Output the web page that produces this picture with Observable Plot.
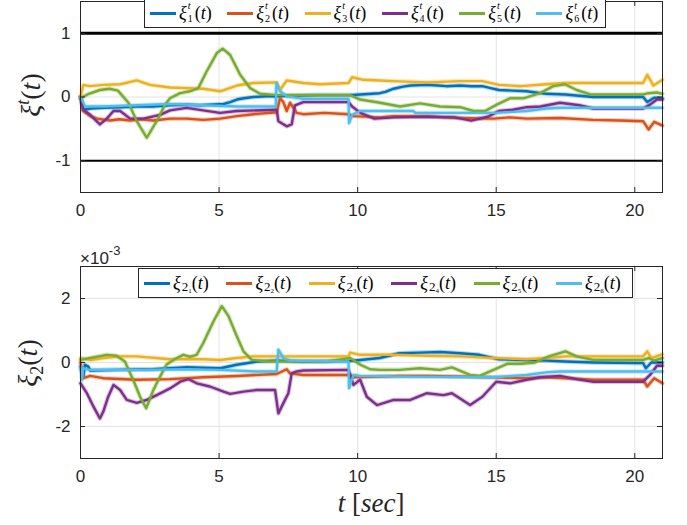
<!DOCTYPE html>
<html>
<head>
<meta charset="utf-8">
<script src="https://cdn.jsdelivr.net/npm/d3@7"></script>
<script src="https://cdn.jsdelivr.net/npm/@observablehq/plot@0.6"></script>
<style>
  html, body { margin: 0; padding: 0; background: #fff; }
  #fig { position: relative; width: 687px; height: 525px; overflow: hidden; background: #fff; }
  #fig svg { position: absolute; left: 0; }
  .lbl { position: absolute; font-family: "Liberation Serif", "DejaVu Serif", serif; color: #262626; white-space: nowrap; }
  .ylab { font-size: 28px; transform: translate(-50%, -50%) rotate(-90deg); }
  .xlab { font-size: 27px; transform: translate(-50%, -50%); }
  .exp { position: absolute; font-family: "Liberation Sans", sans-serif; font-size: 17px; color: #262626; }
  .exp sup { font-size: 13px; position: relative; top: -2px; }
  .legend { position: absolute; box-sizing: border-box; border: 1px solid #262626; background: #fff;
            display: flex; align-items: center; font-family: "Liberation Serif", serif; font-size: 18px; color: #000; }
  .item { display: flex; align-items: center; flex: none; }
  .sw { display: inline-block; width: 26px; height: 3px; margin-right: 3px; }
  .m { display: inline-flex; align-items: center; }
  .m i { font-style: italic; }
  .ss { position: relative; display: inline-block; width: 7px; height: 20px; margin-left: 1px; }
  .ss span { position: absolute; left: 0; font-size: 10px; line-height: 10px; }
  .ss .up { top: -3px; font-style: italic; }
  .ss .dn { top: 10px; }
  .sub2 { font-size: 13px; position: relative; top: 4px; margin-left: 1px; }
  .sub3 { font-size: 7px; position: relative; top: 2px; }
</style>
</head>
<body>
<div id="fig"></div>
<script>
// Series colours (ordered 1..6)
const colors = ["#0072BD", "#D95319", "#EDB120", "#7E2F8E", "#77AC30", "#4DBEEE"];
const xTicks = [0, 5, 10, 15, 20];
const yTicksTop = [-1, 0, 1];
const yTicksBottom = [-2, 0, 2];
const bounds = [-1, 1];

// Top panel: xi^t_i(t), pairs of [t (sec), value]
const xi1 = [[0,0],[0.1,-0.2],[0.35,-0.18],[0.8,-0.17],[1.43,-0.16],[2.0,-0.15],[2.63,-0.15],[3.2,-0.13],[3.83,-0.12],[4.3,-0.13],[4.67,-0.12],[5.16,-0.11],[5.4,-0.08],[5.64,-0.04],[5.9,-0.02],[6.24,0],[6.7,0.01],[7.08,0.01],[7.5,0.02],[8.5,0.03],[9.7,0.03],[10.1,0.04],[10.8,0.06],[11.0,0.08],[11.3,0.13],[11.6,0.16],[11.9,0.18],[12.5,0.19],[12.9,0.18],[13.2,0.17],[13.7,0.18],[14.1,0.17],[14.5,0.17],[14.8,0.14],[15.1,0.11],[15.6,0.1],[16.1,0.09],[16.8,0.05],[17.5,0.04],[18.5,0],[19.5,0],[20.3,0],[20.45,-0.08],[20.7,-0.01],[21,-0.02]];
const xi2 = [[0,0],[0.1,-0.22],[0.35,-0.3],[0.6,-0.34],[1.07,-0.37],[1.4,-0.35],[1.79,-0.37],[2.2,-0.35],[2.63,-0.37],[3.23,-0.34],[3.83,-0.34],[4.43,-0.36],[5.04,-0.34],[5.64,-0.3],[6.24,-0.27],[7.08,-0.24],[7.2,-0.02],[7.32,-0.08],[7.44,-0.22],[7.56,-0.09],[7.8,-0.25],[8.04,-0.27],[8.8,-0.25],[9.67,-0.27],[9.85,-0.3],[10.8,-0.32],[11.3,-0.3],[12.5,-0.3],[13.1,-0.32],[13.7,-0.33],[14.9,-0.34],[15.5,-0.32],[16.1,-0.34],[17.3,-0.33],[18.5,-0.36],[19.5,-0.37],[20.3,-0.38],[20.5,-0.51],[20.7,-0.39],[21,-0.45]];
const xi3 = [[0,0],[0.1,0.19],[0.34,0.17],[0.82,0.19],[1.43,0.2],[2.03,0.26],[2.51,0.19],[3.23,0.15],[3.83,0.14],[4.43,0.13],[5.04,0.09],[5.64,0.18],[6.24,0.22],[7.08,0.23],[7.2,0.11],[7.44,0.26],[8.04,0.22],[8.65,0.2],[9.67,0.22],[9.8,0.31],[10.2,0.27],[10.8,0.26],[11.3,0.25],[12.5,0.23],[13.7,0.25],[14.5,0.25],[15.1,0.19],[15.9,0.17],[16.8,0.2],[17.5,0.22],[20.3,0.22],[20.45,0.35],[20.67,0.18],[21,0.27]];
const xi4 = [[0,0],[0.1,-0.2],[0.35,-0.28],[0.7,-0.43],[0.95,-0.34],[1.19,-0.22],[1.43,-0.22],[1.79,-0.34],[2.27,-0.34],[2.87,-0.28],[3.23,-0.21],[3.83,-0.17],[4.43,-0.21],[5.04,-0.25],[5.64,-0.22],[7.08,-0.2],[7.14,-0.38],[7.44,-0.46],[7.62,-0.43],[7.74,-0.13],[8.04,-0.08],[9.67,-0.08],[9.8,-0.15],[10.1,-0.25],[10.6,-0.34],[11.3,-0.32],[12.5,-0.31],[13.5,-0.32],[14.1,-0.37],[14.7,-0.31],[15.1,-0.22],[15.6,-0.2],[16.1,-0.16],[16.6,-0.15],[17.3,-0.09],[18.0,-0.13],[18.5,-0.18],[20.3,-0.18],[20.55,-0.12],[20.8,-0.04],[21,-0.04]];
const xi5 = [[0,-0.02],[0.3,0.05],[0.7,0.11],[1.05,0.13],[1.35,0.1],[1.73,-0.09],[2.03,-0.38],[2.39,-0.64],[2.75,-0.38],[3.05,-0.12],[3.23,-0.02],[3.59,0.06],[3.95,0.09],[4.25,0.14],[4.55,0.4],[4.92,0.69],[5.13,0.76],[5.4,0.66],[5.76,0.35],[6.12,0.14],[6.48,0.05],[7.08,0.03],[8.5,0.03],[9.73,0.03],[10.09,-0.04],[10.81,-0.09],[11.53,-0.15],[12.25,-0.1],[12.97,-0.15],[13.7,-0.16],[14.18,-0.22],[14.6,-0.22],[15.02,-0.12],[15.5,-0.02],[15.98,-0.02],[16.58,0.06],[17.06,0.17],[17.48,0.2],[17.9,0.11],[18.4,0.04],[20.3,0.04],[20.5,0.06],[20.8,0.07],[21,0.05]];
const xi6 = [[0,0],[0.17,-0.15],[0.82,-0.15],[2.03,-0.13],[3.23,-0.11],[4.43,-0.13],[5.64,-0.15],[7.05,-0.15],[7.07,0.22],[7.2,0.09],[7.44,0.01],[8.04,-0.03],[9.67,-0.03],[9.69,-0.41],[9.8,-0.28],[10.1,-0.22],[12.0,-0.22],[12.1,-0.25],[14.9,-0.25],[16.1,-0.22],[16.8,-0.18],[17.3,-0.17],[21,-0.17]];

// Bottom panel: xi_2i(t), values in units of 1e-3
const xi2_1 = [[0,-0.13],[0.1,-0.44],[0.16,-0.07],[0.28,-0.13],[0.35,-0.25],[1.43,-0.23],[2.63,-0.21],[3.83,-0.15],[5.04,-0.18],[5.64,-0.07],[6.36,0.03],[7.08,0.06],[8.0,0.03],[9.73,0.05],[10.09,0.08],[10.8,0.14],[11.5,0.29],[12.25,0.31],[12.97,0.33],[13.7,0.29],[14.4,0.24],[15.1,0.1],[16.1,0.08],[16.8,0.06],[17.5,0.03],[18.5,0],[20.3,-0.02],[20.4,-0.18],[20.6,0],[21,0]];
const xi2_2 = [[0,0],[0.1,-0.49],[0.35,-0.42],[0.82,-0.49],[2.03,-0.54],[3.23,-0.52],[4.43,-0.46],[5.64,-0.42],[7.08,-0.36],[7.44,-0.21],[7.56,-0.34],[8.04,-0.39],[9.73,-0.39],[9.85,-0.46],[10.8,-0.44],[11.5,-0.42],[12.5,-0.42],[14.9,-0.46],[16.1,-0.49],[16.8,-0.46],[17.5,-0.49],[18.5,-0.54],[20.3,-0.54],[20.45,-0.75],[20.7,-0.49],[21,-0.65]];
const xi2_3 = [[0,0.14],[0.35,0.08],[0.82,0.14],[1.43,0.19],[2.03,0.19],[3.23,0.1],[4.43,0.1],[5.04,0.08],[5.64,0.14],[6.24,0.19],[7.08,0.19],[8.04,0.19],[9.67,0.19],[9.73,0.31],[10.09,0.24],[11.3,0.24],[12.5,0.21],[13.7,0.19],[14.9,0.14],[16.1,0.1],[16.8,0.14],[17.5,0.19],[20.3,0.19],[20.45,0.35],[20.6,0.14],[21,0.26]];
const xi2_4 = [[0,-0.65],[0.23,-0.96],[0.47,-1.38],[0.7,-1.75],[0.82,-1.54],[1.0,-1.07],[1.19,-0.7],[1.43,-0.86],[1.67,-1.17],[2.03,-1.26],[2.39,-1.17],[2.75,-1.02],[3.23,-0.81],[3.6,-0.6],[3.9,-0.52],[4.19,-0.65],[4.67,-0.75],[5.16,-0.91],[5.4,-0.98],[5.88,-0.91],[6.36,-0.86],[7.02,-0.86],[7.14,-1.59],[7.32,-1.27],[7.5,-0.96],[7.62,-0.34],[7.8,-0.28],[8.04,-0.25],[9.67,-0.23],[9.85,-0.7],[10.09,-0.54],[10.33,-1.07],[10.7,-1.33],[11.3,-1.17],[11.9,-1.17],[12.5,-0.96],[13.1,-1.02],[13.4,-0.96],[14.06,-1.33],[14.5,-1.07],[15.0,-0.6],[15.5,-0.65],[16.1,-0.54],[16.6,-0.46],[17.3,-0.42],[17.9,-0.52],[18.5,-0.6],[20.3,-0.6],[20.55,-0.39],[20.8,-0.1],[21,-0.1]];
const xi2_5 = [[0,0.08],[0.35,0.14],[0.95,0.24],[1.3,0.21],[1.6,0.03],[1.9,-0.54],[2.15,-1.07],[2.37,-1.43],[2.63,-0.86],[2.87,-0.44],[3.1,-0.07],[3.35,0.08],[3.71,0.24],[3.95,0.18],[4.19,0.24],[4.43,0.61],[4.8,1.29],[5.1,1.76],[5.34,1.45],[5.64,0.82],[5.88,0.35],[6.18,0.08],[6.84,0.03],[8.9,0.03],[9.73,0.14],[10.1,-0.07],[10.45,-0.21],[10.8,-0.23],[11.5,-0.23],[12.25,-0.18],[12.97,-0.23],[13.4,-0.15],[14.06,-0.39],[14.4,-0.42],[14.9,-0.23],[15.4,-0.04],[15.9,-0.04],[16.4,0],[16.9,0.19],[17.5,0.35],[17.9,0.19],[18.5,0.08],[20.3,0.08],[20.5,0.14],[20.7,0.06],[21,0.14]];
const xi2_6 = [[0,-0.13],[0.05,-0.54],[0.1,-0.18],[0.35,-0.23],[2.03,-0.23],[3.83,-0.21],[5.04,-0.23],[6.36,-0.28],[7.08,-0.28],[7.14,0.4],[7.32,0.14],[7.56,0.06],[8.04,0.05],[9.67,0.03],[9.69,-0.8],[9.85,-0.39],[10.1,-0.42],[11.9,-0.44],[14.9,-0.46],[16.1,-0.39],[16.8,-0.31],[17.3,-0.28],[21,-0.28]];

const topSeries = [xi1, xi2, xi3, xi4, xi5, xi6];
const bottomSeries = [xi2_1, xi2_2, xi2_3, xi2_4, xi2_5, xi2_6];

function toRows(list) {
  return list.flatMap((pts, i) => pts.map(([t, v]) => ({t, v, s: i})));
}

const axisColor = "#262626";
const gridColor = "#e3e3e3";
const font = "'Liberation Sans', Arial, sans-serif";
const plain = d => String(d);   // "-1", "0", "1" with a plain hyphen

function panel({rows, yDomain, yTicks, height, marginTop, marginBottom, extra = []}) {
  const xLen = 0.18;                                  // inward tick length along x
  const yLen = (yDomain[1] - yDomain[0]) * 5 / 192;   // inward tick length along y
  return Plot.plot({
    width: 687, height, marginLeft: 80, marginRight: 25, marginTop, marginBottom,
    x: {domain: [0, 21]},
    y: {domain: yDomain},
    color: {domain: [0, 1, 2, 3, 4, 5], range: colors},
    style: {fontFamily: font, fontSize: "17px", color: axisColor, background: "transparent"},
    marks: [
      Plot.gridX(xTicks.slice(1), {stroke: gridColor, strokeOpacity: 1}),
      Plot.gridY(yTicks, {stroke: gridColor, strokeOpacity: 1}),
      ...extra,
      Plot.line(rows, {x: "t", y: "v", z: "s", stroke: "s", strokeWidth: 4.5, strokeOpacity: 0.3}),
      Plot.line(rows, {x: "t", y: "v", z: "s", stroke: "s", strokeWidth: 2.4}),
      Plot.frame({stroke: axisColor, strokeWidth: 1}),
      // inward tick marks on all four sides
      Plot.ruleX(xTicks, {x: d => d, y1: yDomain[0], y2: yDomain[0] + yLen, stroke: axisColor}),
      Plot.ruleX(xTicks, {x: d => d, y1: yDomain[1], y2: yDomain[1] - yLen, stroke: axisColor}),
      Plot.ruleY(yTicks, {y: d => d, x1: 0, x2: xLen, stroke: axisColor}),
      Plot.ruleY(yTicks, {y: d => d, x1: 21, x2: 21 - xLen, stroke: axisColor}),
      Plot.axisX(xTicks, {tickSize: 0, tickPadding: 11, label: null, fill: axisColor, tickFormat: plain}),
      Plot.axisY(yTicks, {tickSize: 0, tickPadding: 10, label: null, fill: axisColor, tickFormat: plain})
    ]
  });
}

const fig = document.getElementById("fig");

// Top panel
const topPanel = panel({
  rows: toRows(topSeries), yDomain: [-1.5, 1.5], yTicks: yTicksTop,
  height: 225, marginTop: 1, marginBottom: 33,
  extra: [
    Plot.ruleY([bounds[1]], {stroke: "#000", strokeWidth: 3}),
    Plot.ruleY([bounds[0]], {stroke: "#000", strokeWidth: 2})
  ]
});
topPanel.style.top = "0px";
fig.appendChild(topPanel);

// Bottom panel
const bottomPanel = panel({
  rows: toRows(bottomSeries), yDomain: [-3, 3], yTicks: yTicksBottom,
  height: 295, marginTop: 36, marginBottom: 67
});
bottomPanel.style.top = "230px";
fig.appendChild(bottomPanel);

// Axis titles, exponent label and legends
function add(html) { fig.insertAdjacentHTML("beforeend", html); }

add(`<div class="lbl ylab" style="left:30px;top:95px"><i>ξ</i><sup style="font-size:18px"><i>t</i></sup>(<i>t</i>)</div>`);
add(`<div class="lbl ylab" style="left:30px;top:363px"><i>ξ</i><sub style="font-size:18px">2</sub>(<i>t</i>)</div>`);
add(`<div class="lbl xlab" style="left:371px;top:503px"><i>t</i> [<i>sec</i>]</div>`);
add(`<div class="exp" style="left:80px;top:245px">×10<sup>-3</sup></div>`);

const topLegend = colors.map((c, i) =>
  `<div class="item" style="width:77.3px"><span class="sw" style="background:${c}"></span>` +
  `<span class="m"><i>ξ</i><span class="ss"><span class="up">t</span><span class="dn">${i + 1}</span></span>(<i>t</i>)</span></div>`).join("");
add(`<div class="legend" style="left:144px;top:-1px;width:462px;height:29px;padding-left:5px">${topLegend}</div>`);

const bottomLegend = colors.map((c, i) =>
  `<div class="item" style="width:82.4px"><span class="sw" style="background:${c}"></span>` +
  `<span class="m"><i>ξ</i><span class="sub2">2<span class="sub3">${i + 1}</span></span>(<i>t</i>)</span></div>`).join("");
add(`<div class="legend" style="left:138px;top:268px;width:495px;height:30px;padding-left:5px">${bottomLegend}</div>`);
</script>
</body>
</html>
